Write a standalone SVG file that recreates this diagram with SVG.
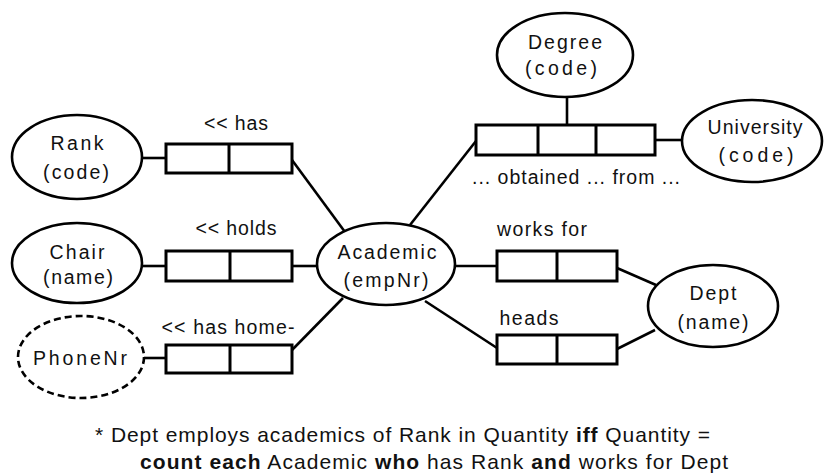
<svg xmlns="http://www.w3.org/2000/svg" width="839" height="476" viewBox="0 0 839 476">
<style>
.e{fill:#fff;stroke:#000;stroke-width:2.6}
.d{fill:#fff;stroke:#000;stroke-width:2.6;stroke-dasharray:7 4}
.b{fill:#fff;stroke:#000;stroke-width:3}
.l{stroke:#000;stroke-width:2.6;fill:none}
text{font-family:"Liberation Sans",Arial,sans-serif;font-size:19.5px;fill:#111;text-anchor:middle}
.f{font-size:21px;text-anchor:start}
.k{font-weight:bold}
</style>
<rect width="839" height="476" fill="#fff"/>
<g id="connectors">
<line class="l" x1="142" y1="158" x2="166" y2="158"/>
<line class="l" x1="292" y1="160" x2="345" y2="232"/>
<line class="l" x1="143" y1="266" x2="166" y2="266"/>
<line class="l" x1="292" y1="266" x2="318" y2="266"/>
<line class="l" x1="144" y1="358" x2="166" y2="358"/>
<line class="l" x1="292" y1="350" x2="343" y2="298"/>
<line class="l" x1="410" y1="225" x2="476" y2="141"/>
<line class="l" x1="567" y1="97" x2="567" y2="125"/>
<line class="l" x1="655" y1="140" x2="683" y2="140"/>
<line class="l" x1="455" y1="266" x2="497" y2="266"/>
<line class="l" x1="617" y1="268" x2="656" y2="285"/>
<line class="l" x1="425" y1="301" x2="497" y2="348"/>
<line class="l" x1="617" y1="349" x2="655" y2="330"/>
</g>
<g id="rank">
<ellipse class="e" cx="77" cy="157" rx="65" ry="42"/>
<text x="77" y="150" textLength="53" lengthAdjust="spacing">Rank</text>
<text x="76" y="179" textLength="66" lengthAdjust="spacing">(code)</text>
</g>
<g id="has">
<rect class="b" x="166" y="144" width="126" height="29"/>
<line class="b" x1="229" y1="144" x2="229" y2="173"/>
<text x="236" y="130" textLength="64" lengthAdjust="spacing">&lt;&lt; has</text>
</g>
<g id="chair">
<ellipse class="e" cx="77" cy="263" rx="65" ry="40"/>
<text x="77" y="259" textLength="55" lengthAdjust="spacing">Chair</text>
<text x="78" y="284" textLength="70" lengthAdjust="spacing">(name)</text>
</g>
<g id="holds">
<rect class="b" x="166" y="251" width="126" height="30"/>
<line class="b" x1="230" y1="251" x2="230" y2="281"/>
<text x="236" y="235" textLength="81" lengthAdjust="spacing">&lt;&lt; holds</text>
</g>
<g id="phonenr">
<ellipse class="d" cx="81" cy="357" rx="63" ry="41"/>
<text x="80" y="365" textLength="94" lengthAdjust="spacing">PhoneNr</text>
</g>
<g id="hashome">
<rect class="b" x="166" y="345" width="126" height="28"/>
<line class="b" x1="230" y1="345" x2="230" y2="373"/>
<text x="228" y="334" textLength="133" lengthAdjust="spacing">&lt;&lt; has home-</text>
</g>
<g id="academic">
<ellipse class="e" cx="386" cy="264" rx="69" ry="41"/>
<text x="387" y="259" textLength="99" lengthAdjust="spacing">Academic</text>
<text x="386" y="287" textLength="85" lengthAdjust="spacing">(empNr)</text>
</g>
<g id="degree">
<ellipse class="e" cx="565" cy="55" rx="68" ry="42"/>
<text x="565" y="49" textLength="74" lengthAdjust="spacing">Degree</text>
<text x="561" y="75" textLength="72" lengthAdjust="spacing">(code)</text>
</g>
<g id="obtained">
<rect class="b" x="476" y="125" width="179" height="30"/>
<line class="b" x1="538" y1="125" x2="538" y2="155"/>
<line class="b" x1="596" y1="125" x2="596" y2="155"/>
<text x="576" y="184" textLength="208" lengthAdjust="spacing">... obtained ... from ...</text>
</g>
<g id="university">
<ellipse class="e" cx="752" cy="141" rx="70" ry="41"/>
<text x="755" y="134" textLength="95" lengthAdjust="spacing">University</text>
<text x="756" y="162" textLength="75" lengthAdjust="spacing">(code)</text>
</g>
<g id="worksfor">
<rect class="b" x="497" y="251" width="120" height="30"/>
<line class="b" x1="557" y1="251" x2="557" y2="281"/>
<text x="542" y="236" textLength="90" lengthAdjust="spacing">works for</text>
</g>
<g id="heads">
<rect class="b" x="497" y="335" width="120" height="29"/>
<line class="b" x1="557" y1="335" x2="557" y2="364"/>
<text x="529" y="325" textLength="59" lengthAdjust="spacing">heads</text>
</g>
<g id="dept">
<ellipse class="e" cx="713" cy="306" rx="65" ry="41"/>
<text x="713" y="300" textLength="47" lengthAdjust="spacing">Dept</text>
<text x="713" y="329" textLength="71" lengthAdjust="spacing">(name)</text>
</g>
<g id="footnote">
<text class="f" x="95" y="442" textLength="615" lengthAdjust="spacing">* Dept employs academics of Rank in Quantity <tspan class="k">iff</tspan> Quantity =</text>
<text class="f" x="140" y="469" textLength="588" lengthAdjust="spacing"><tspan class="k">count each</tspan> Academic <tspan class="k">who</tspan> has Rank <tspan class="k">and</tspan> works for Dept</text>
</g>
</svg>
